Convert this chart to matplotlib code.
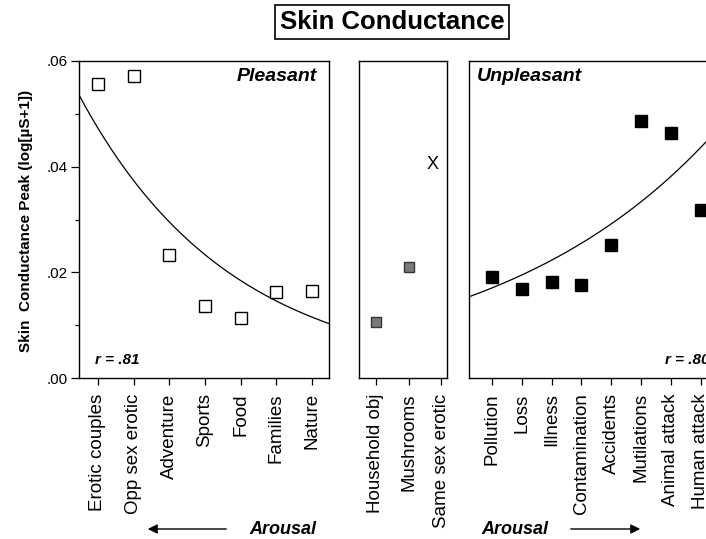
import numpy as np
import matplotlib
matplotlib.use("Agg")
import matplotlib.pyplot as plt

plt.rcParams['font.family'] = ['Liberation Sans', 'DejaVu Sans']

# --- data ---
pleasant_labels = ['Erotic couples', 'Opp sex erotic', 'Adventure', 'Sports',
                   'Food', 'Families', 'Nature']
pleasant_vals = [0.0556, 0.0572, 0.0233, 0.0136, 0.0114, 0.0163, 0.0165]

neutral_labels = ['Household obj', 'Mushrooms', 'Same sex erotic']
neutral_vals = [0.0106, 0.0210]
same_sex_val = 0.0405

unpleasant_labels = ['Pollution', 'Loss', 'Illness', 'Contamination',
                     'Accidents', 'Mutilations', 'Animal attack', 'Human attack']
unpleasant_vals = [0.0191, 0.0168, 0.0182, 0.0176, 0.0252, 0.0486, 0.0464, 0.0318]

# fitted curves (x in category units, y)
pleasant_fit_x = [-0.53, 3.0, 6.48]
pleasant_fit_y = [0.0541, 0.0229, 0.0104]
unpleasant_fit_x = [-0.77, 4.0, 7.2]
unpleasant_fit_y = [0.0153, 0.0295, 0.0445]

r_pleasant = '.81'
r_unpleasant = '.80'

W, H = 706, 539
fig = plt.figure(figsize=(W / 100, H / 100), dpi=100)


def px_axes(x0, x1, y_top=61, y_bot=378):
    return fig.add_axes([x0 / W, 1 - y_bot / H, (x1 - x0) / W, (y_bot - y_top) / H])


def exp_curve(ax, xs, ys, xlim):
    b, a = np.polyfit(xs, np.log(ys), 1)
    xx = np.linspace(xlim[0], xlim[1], 200)
    ax.plot(xx, np.exp(a + b * xx), color='black', lw=0.9)


def style(ax, labels, xlim):
    ax.set_ylim(0, 0.06)
    ax.set_xlim(*xlim)
    ax.set_xticks(range(len(labels)))
    ax.set_xticklabels(labels, rotation=90, fontsize=13.5)
    ax.tick_params(axis='x', direction='out', length=5, width=0.9, pad=6)
    for s in ax.spines.values():
        s.set_linewidth(1.0)


# Pleasant
ax1 = px_axes(79, 329)
xl1 = (-0.53, 6.48)
style(ax1, pleasant_labels, xl1)
exp_curve(ax1, pleasant_fit_x, pleasant_fit_y, xl1)
ax1.plot(range(len(pleasant_vals)), pleasant_vals, 's', ms=9, mfc='white',
         mec='black', mew=1.0, ls='none')
ax1.set_yticks([0, 0.02, 0.04, 0.06])
ax1.set_yticklabels(['.00', '.02', '.04', '.06'], fontsize=11)
ax1.set_yticks([0.01, 0.03, 0.05], minor=True)
ax1.tick_params(axis='y', which='major', direction='out', length=6, width=0.9, pad=2)
ax1.tick_params(axis='y', which='minor', direction='out', length=3, width=0.9)
ax1.text(0.952, 0.95, 'Pleasant', transform=ax1.transAxes, ha='right', va='center',
         fontsize=14, fontweight='bold', style='italic')
ax1.text(0.064, 0.057, 'r = ' + r_pleasant, transform=ax1.transAxes, ha='left',
         va='center', fontsize=11, fontweight='bold', style='italic')

# Neutral
ax2 = px_axes(359, 447)
xl2 = (-0.52, 2.18)
style(ax2, neutral_labels, xl2)
ax2.set_yticks([])
ax2.plot(range(len(neutral_vals)), neutral_vals, 's', ms=7, mfc='#7a7a7a',
         mec='#333333', mew=1.0, ls='none')
ax2.annotate('X', (2, same_sex_val), xytext=(-6, 0), textcoords='offset points',
             ha='center', va='center', fontsize=13)

# Unpleasant
ax3 = px_axes(469, 720)
xl3 = (-0.77, 7.65)
style(ax3, unpleasant_labels, xl3)
ax3.set_yticks([])
exp_curve(ax3, unpleasant_fit_x, unpleasant_fit_y, xl3)
ax3.plot(range(len(unpleasant_vals)), unpleasant_vals, 's', ms=9, mfc='black',
         mec='black', ls='none')
ax3.text(0.032, 0.95, 'Unpleasant', transform=ax3.transAxes, ha='left', va='center',
         fontsize=14, fontweight='bold', style='italic')
ax3.text(0.78, 0.057, 'r = ' + r_unpleasant, transform=ax3.transAxes, ha='left',
         va='center', fontsize=11, fontweight='bold', style='italic')

# title and y label
fig.text(392 / W, 1 - 22 / H, 'Skin Conductance', ha='center', va='center',
         fontsize=18.5, fontweight='bold',
         bbox=dict(boxstyle='square,pad=0.2', fc='white', ec='black', lw=1.2))
fig.text(26 / W, 1 - 221 / H, 'Skin  Conductance Peak (log[µS+1])', rotation=90,
         ha='center', va='center', fontsize=11, fontweight='bold')

# arousal arrows
ya = 1 - 529 / H
fig.text(283 / W, ya, 'Arousal', ha='center', va='center', fontsize=13,
         fontweight='bold', style='italic')
fig.text(515 / W, ya, 'Arousal', ha='center', va='center', fontsize=13,
         fontweight='bold', style='italic')
arrow = dict(arrowstyle='-|>', color='black', lw=1.0, mutation_scale=14)
fig.add_artist(matplotlib.patches.FancyArrowPatch((229 / W, ya), (145 / W, ya),
               transform=fig.transFigure, **arrow))
fig.add_artist(matplotlib.patches.FancyArrowPatch((568 / W, ya), (643 / W, ya),
               transform=fig.transFigure, **arrow))

fig.savefig('out.png', dpi=100)
